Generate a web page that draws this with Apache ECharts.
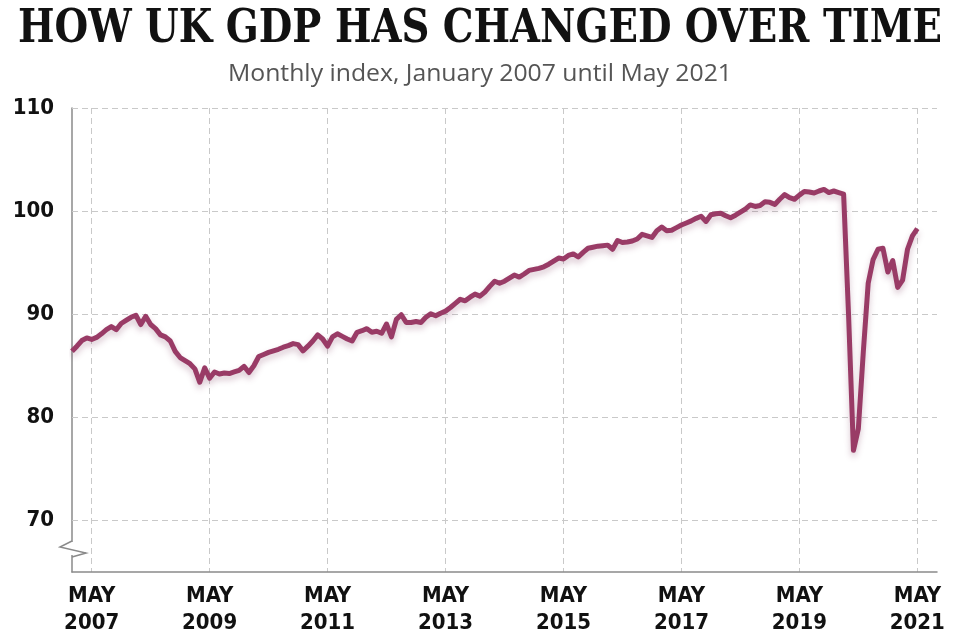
<!DOCTYPE html>
<html>
<head>
<meta charset="utf-8">
<script src="https://cdn.jsdelivr.net/npm/echarts@6/dist/echarts.min.js"></script>
<style>
html,body{margin:0;padding:0;background:#fff;}
#chart{width:960px;height:640px;}
</style>
</head>
<body>
<div id="chart"></div>
<script>
// ---- data ----
const titleText = 'HOW UK GDP HAS CHANGED OVER TIME';
const subtitleText = 'Monthly index, January 2007 until May 2021';
const startYear = 2007;
const axisEndYear = 2021, axisEndMonth = 9; // axis runs to Sep 2021
const yGridValues = [70, 80, 90, 100, 110];
// Monthly GDP index, Jan 2007 .. May 2021
const gdp = [
  86.4, 86.9, 87.45, 87.7, 87.55, 87.75, 88.1, 88.5, 88.8, 88.5,
  89.1, 89.4, 89.7, 89.9, 89.0, 89.8, 89.0, 88.6, 88.0, 87.8,
  87.4, 86.4, 85.8, 85.5, 85.2, 84.7, 83.4, 84.8, 83.8, 84.4,
  84.2, 84.3, 84.25, 84.4, 84.55, 84.95, 84.35, 85.0, 85.9, 86.1,
  86.3, 86.45, 86.6, 86.8, 86.95, 87.15, 87.05, 86.45, 86.9, 87.4,
  88.0, 87.6, 86.9, 87.8, 88.1, 87.85, 87.6, 87.4, 88.25, 88.4,
  88.6, 88.25, 88.35, 88.15, 89.05, 87.8, 89.5, 89.95, 89.2, 89.2,
  89.3, 89.2, 89.7, 90.05, 89.85, 90.1, 90.3, 90.65, 91.05, 91.45,
  91.3, 91.65, 91.95, 91.75, 92.15, 92.7, 93.2, 93.0, 93.2, 93.5,
  93.8, 93.6, 93.9, 94.25, 94.35, 94.45, 94.6, 94.85, 95.15, 95.45,
  95.35, 95.7, 95.85, 95.55, 96.0, 96.4, 96.5, 96.6, 96.65, 96.7,
  96.3, 97.15, 96.95, 97.0, 97.1, 97.3, 97.75, 97.6, 97.45, 98.1,
  98.45, 98.1, 98.15, 98.4, 98.65, 98.85, 99.05, 99.3, 99.5, 99.0,
  99.65, 99.75, 99.8, 99.55, 99.35, 99.6, 99.9, 100.2, 100.6, 100.45,
  100.55, 100.9, 100.85, 100.65, 101.15, 101.6, 101.3, 101.15, 101.55, 101.9,
  101.85, 101.75, 101.95, 102.1, 101.8, 101.95, 101.8, 101.65, 90.0, 76.8,
  78.9, 86.3, 93.0, 95.3, 96.3, 96.4, 94.1, 95.2, 92.6, 93.3,
  96.3, 97.6, 98.3
];

// month categories "YYYY-MM"
const categories = [];
for (let y = startYear; y <= axisEndYear; y++) {
  for (let m = 1; m <= 12; m++) {
    if (y === axisEndYear && m > axisEndMonth) break;
    categories.push(y + '-' + String(m).padStart(2, '0'));
  }
}
function isMayOddYear(val) {
  const y = parseInt(val.slice(0, 4), 10);
  return val.slice(5) === '05' && (y % 2 === 1);
}

// ---- fonts / fitting ----
const titleFont = 'bold 46px "DejaVu Serif", serif';
const subFont = '24px "Open Sans", "Noto Sans", sans-serif';
const labelFamily = '"DejaVu Sans Condensed", "Liberation Sans Narrow", sans-serif';
const mctx = document.createElement('canvas').getContext('2d');
function fitScale(text, font, target) {
  mctx.font = font;
  return target / mctx.measureText(text).width;
}
const titleScale = fitScale(titleText, titleFont, 924);
const subScale = fitScale(subtitleText, subFont, 504);

const chart = echarts.init(document.getElementById('chart'), null, {renderer: 'canvas'});
const lineColor = '#993b66';
const gridColor = '#c9c9c9';
const axisColor = '#8a8a8a';

const option = {
  backgroundColor: '#ffffff',
  animation: false,
  grid: {left: 72, right: 23, top: 108, bottom: 68, containLabel: false},
  xAxis: {
    type: 'category',
    data: categories,
    boundaryGap: false,
    axisLine: {show: true, lineStyle: {color: axisColor, width: 1.5}},
    axisTick: {show: false},
    axisLabel: {
      interval: function (idx, val) { return isMayOddYear(val); },
      formatter: function (val) { return 'MAY\n' + val.slice(0, 4); },
      color: '#111',
      fontFamily: labelFamily,
      fontWeight: 'bold',
      fontSize: 22,
      lineHeight: 27,
      margin: 11
    },
    splitLine: {
      show: true,
      interval: function (idx, val) { return isMayOddYear(val); },
      lineStyle: {color: gridColor, type: [6, 4], width: 1}
    }
  },
  yAxis: {
    type: 'value',
    min: 65,
    max: 110,
    interval: 5,
    axisLine: {show: true, lineStyle: {color: axisColor, width: 1.5}},
    axisTick: {show: false},
    splitLine: {show: false},
    axisLabel: {
      formatter: function (v) { return v % 10 === 0 ? String(v) : ''; },
      color: '#111',
      fontFamily: labelFamily,
      fontWeight: 'bold',
      fontSize: 22,
      margin: 18
    }
  },
  series: [
    {
      type: 'line',
      name: 'grid',
      data: [],
      z: 1,
      silent: true,
      markLine: {
        silent: true,
        z: 1,
        symbol: ['none', 'none'],
        label: {show: false},
        lineStyle: {color: gridColor, type: [6, 4], width: 1},
        data: yGridValues.map(function (v) { return {yAxis: v}; })
      }
    },
    {
      type: 'line',
      name: 'GDP',
      data: gdp,
      z: 5,
      symbol: 'none',
      smooth: false,
      lineStyle: {
        color: lineColor,
        width: 5,
        join: 'round',
        shadowColor: 'rgba(120,50,85,0.28)',
        shadowBlur: 6,
        shadowOffsetY: 4
      }
    }
  ],
  graphic: [
    {
      type: 'text',
      x: 480, y: 30,
      scaleX: titleScale,
      style: {
        text: titleText,
        font: titleFont,
        fill: '#111',
        textAlign: 'center',
        textVerticalAlign: 'middle'
      }
    },
    {
      type: 'text',
      x: 480, y: 74,
      scaleX: subScale,
      style: {
        text: subtitleText,
        font: subFont,
        fill: '#555',
        textAlign: 'center',
        textVerticalAlign: 'middle'
      }
    },
    {
      type: 'rect',
      shape: {x: 69, y: 542, width: 6, height: 13},
      style: {fill: '#fff'},
      z: 50
    },
    {
      type: 'polyline',
      shape: {points: [[72, 541], [60, 547], [86, 553], [72, 557]]},
      style: {stroke: axisColor, lineWidth: 1.5, fill: null},
      z: 51
    }
  ]
};
chart.setOption(option);
</script>
</body>
</html>
